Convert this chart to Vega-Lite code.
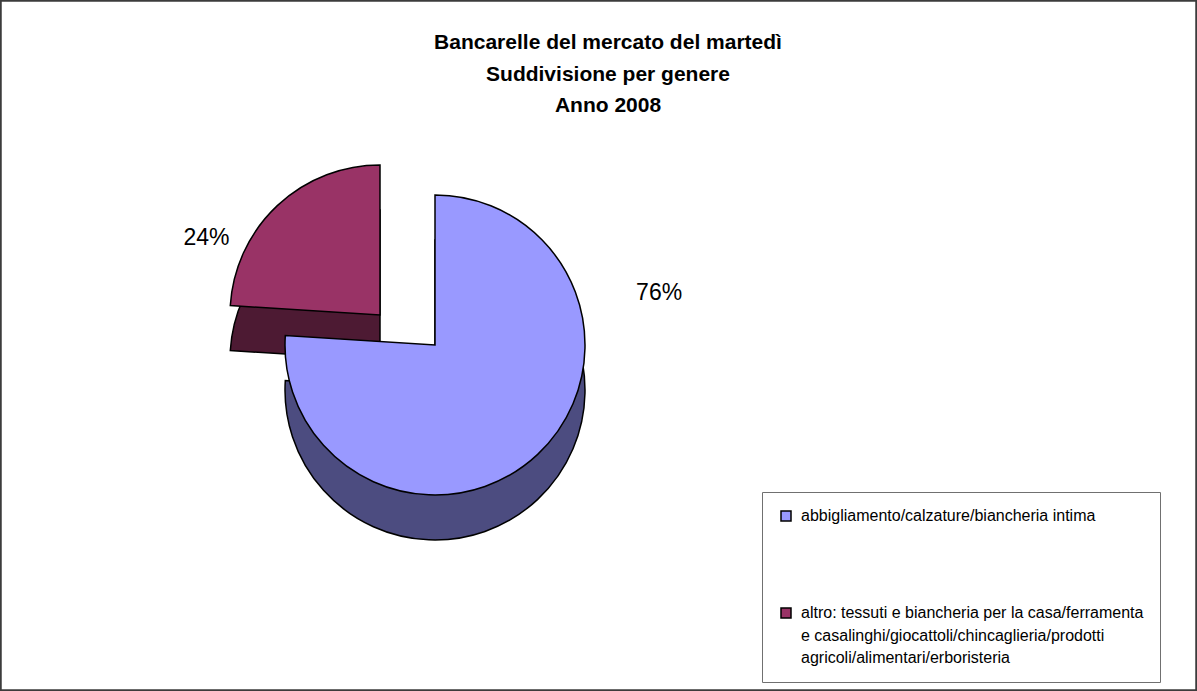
{
  "$schema": "https://vega.github.io/schema/vega-lite/v6.json",
  "width": 1197,
  "height": 691,
  "autosize": {"type": "fit", "contains": "padding"},
  "padding": 0,
  "background": "white",
  "view": {"stroke": "#3c3c3c", "strokeWidth": 3.5, "fill": "white"},
  "config": {
    "view": {"stroke": "#3c3c3c", "strokeWidth": 3.5},
    "font": "Liberation Sans"
  },
  "datasets": {
    "slices": [
      {"category": "abbigliamento/calzature/biancheria intima", "value": 0.76},
      {"category": "altro: tessuti e biancheria per la casa/ferramenta e casalinghi/giocattoli/chincaglieria/prodotti agricoli/alimentari/erboristeria", "value": 0.24}
    ],
    "heading": [
      {"title": "Bancarelle del mercato del martedì"}
    ]
  },
  "layer": [
    {
      "data": {"name": "heading"},
      "mark": {
        "type": "text",
        "text": ["Bancarelle del mercato del martedì", "Suddivisione per genere", "Anno 2008"],
        "x": 608,
        "y": 49,
        "align": "center",
        "baseline": "alphabetic",
        "lineHeight": 31.5,
        "fontSize": 21,
        "fontWeight": "bold",
        "font": "Liberation Sans",
        "color": "black"
      },
      "encoding": {}
    },
    {
      "data": {"name": "slices"},
      "transform": [
        {"stack": "value", "groupby": [], "sort": [{"field": "category", "order": "ascending"}], "as": ["t0", "t1"]},
        {"filter": "indexof(datum.category, 'altro') == 0"}
      ],
      "mark": {"type": "arc", "outerRadius": 150, "x": 380, "y": 360, "fill": "#4D1A33", "stroke": "black", "strokeWidth": 1.5},
      "encoding": {
        "theta": {"field": "t0", "type": "quantitative", "scale": {"domain": [0, 1]}},
        "theta2": {"field": "t1"}
      }
    },
    {
      "data": {"name": "slices"},
      "transform": [
        {"stack": "value", "groupby": [], "sort": [{"field": "category", "order": "ascending"}], "as": ["t0", "t1"]},
        {"filter": "indexof(datum.category, 'altro') == 0"}
      ],
      "mark": {"type": "arc", "outerRadius": 150, "x": 380, "y": 315, "stroke": "black", "strokeWidth": 1.5, "opacity": 1},
      "encoding": {
        "theta": {"field": "t0", "type": "quantitative", "scale": {"domain": [0, 1]}},
        "theta2": {"field": "t1"},
        "color": {
          "field": "category",
          "type": "nominal",
          "scale": {
            "domain": ["abbigliamento/calzature/biancheria intima", "altro: tessuti e biancheria per la casa/ferramenta e casalinghi/giocattoli/chincaglieria/prodotti agricoli/alimentari/erboristeria"],
            "range": ["#9999FF", "#993366"]
          },
          "legend": {
            "orient": "none",
            "legendX": 762,
            "legendY": 492,
            "title": null,
            "strokeColor": "#707070",
            "padding": 16,
            "symbolType": "square",
            "symbolSize": 100,
            "symbolStrokeColor": "black",
            "symbolStrokeWidth": 1.5,
            "symbolOpacity": 1,
            "labelFontSize": 16,
            "labelFont": "Liberation Sans",
            "labelColor": "black",
            "labelLimit": 600,
            "labelOffset": 7,
            "rowPadding": 81,
            "labelExpr": "indexof(datum.label, 'altro') == 0 ? ['altro: tessuti e biancheria per la casa/ferramenta', 'e casalinghi/giocattoli/chincaglieria/prodotti', 'agricoli/alimentari/erboristeria'] : datum.label",
            "encode": {"labels": {"update": {"lineHeight": {"value": 22.5}}}}
          }
        }
      }
    },
    {
      "data": {"name": "slices"},
      "transform": [
        {"stack": "value", "groupby": [], "sort": [{"field": "category", "order": "ascending"}], "as": ["t0", "t1"]},
        {"filter": "indexof(datum.category, 'abbigliamento') == 0"}
      ],
      "mark": {"type": "arc", "outerRadius": 150, "x": 435, "y": 390, "fill": "#4C4C80", "stroke": "black", "strokeWidth": 1.5},
      "encoding": {
        "theta": {"field": "t0", "type": "quantitative", "scale": {"domain": [0, 1]}},
        "theta2": {"field": "t1"}
      }
    },
    {
      "data": {"name": "slices"},
      "transform": [
        {"stack": "value", "groupby": [], "sort": [{"field": "category", "order": "ascending"}], "as": ["t0", "t1"]},
        {"filter": "indexof(datum.category, 'abbigliamento') == 0"}
      ],
      "mark": {"type": "arc", "outerRadius": 150, "x": 435, "y": 345, "stroke": "black", "strokeWidth": 1.5, "opacity": 1},
      "encoding": {
        "theta": {"field": "t0", "type": "quantitative", "scale": {"domain": [0, 1]}},
        "theta2": {"field": "t1"},
        "color": {
          "field": "category",
          "type": "nominal",
          "scale": {
            "domain": ["abbigliamento/calzature/biancheria intima", "altro: tessuti e biancheria per la casa/ferramenta e casalinghi/giocattoli/chincaglieria/prodotti agricoli/alimentari/erboristeria"],
            "range": ["#9999FF", "#993366"]
          },
          "legend": {
            "orient": "none",
            "legendX": 762,
            "legendY": 492,
            "title": null,
            "strokeColor": "#707070",
            "padding": 16,
            "symbolType": "square",
            "symbolSize": 100,
            "symbolStrokeColor": "black",
            "symbolStrokeWidth": 1.5,
            "symbolOpacity": 1,
            "labelFontSize": 16,
            "labelFont": "Liberation Sans",
            "labelColor": "black",
            "labelLimit": 600,
            "labelOffset": 7,
            "rowPadding": 81,
            "labelExpr": "indexof(datum.label, 'altro') == 0 ? ['altro: tessuti e biancheria per la casa/ferramenta', 'e casalinghi/giocattoli/chincaglieria/prodotti', 'agricoli/alimentari/erboristeria'] : datum.label",
            "encode": {"labels": {"update": {"lineHeight": {"value": 22.5}}}}
          }
        }
      }
    },
    {
      "data": {"name": "slices"},
      "transform": [
        {"stack": "value", "groupby": [], "sort": [{"field": "category", "order": "ascending"}], "as": ["t0", "t1"]},
        {"filter": "indexof(datum.category, 'abbigliamento') == 0"}
      ],
      "mark": {"type": "text", "x": 435, "y": 345, "radius": 230, "thetaOffset": 1.344, "fontSize": 23, "font": "Liberation Sans", "color": "black"},
      "encoding": {
        "theta": {"field": "t0", "type": "quantitative", "scale": {"domain": [0, 1]}},
        "text": {"field": "value", "type": "quantitative", "format": ".0%"}
      }
    },
    {
      "data": {"name": "slices"},
      "transform": [
        {"stack": "value", "groupby": [], "sort": [{"field": "category", "order": "ascending"}], "as": ["t0", "t1"]},
        {"filter": "indexof(datum.category, 'altro') == 0"}
      ],
      "mark": {"type": "text", "x": 380, "y": 315, "radius": 190, "thetaOffset": 0.356, "fontSize": 23, "font": "Liberation Sans", "color": "black"},
      "encoding": {
        "theta": {"field": "t0", "type": "quantitative", "scale": {"domain": [0, 1]}},
        "text": {"field": "value", "type": "quantitative", "format": ".0%"}
      }
    }
  ]
}
